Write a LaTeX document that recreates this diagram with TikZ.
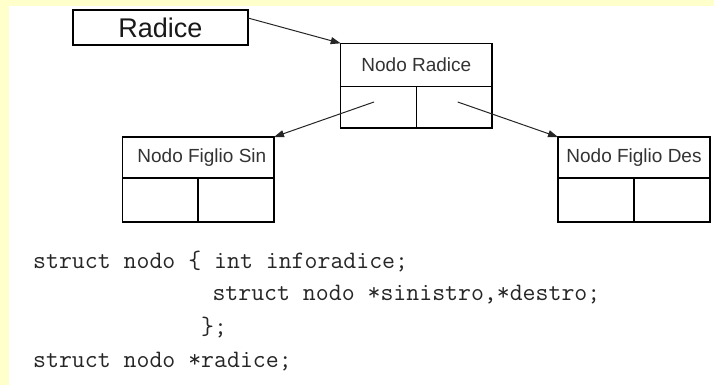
\documentclass[tikz,border=0pt]{standalone}
\usepackage{fontspec}
\setmainfont{Liberation Sans}
\usetikzlibrary{arrows.meta}
\definecolor{bgyellow}{HTML}{FFFFCC}
\definecolor{txtgray}{HTML}{333333}
\begin{document}
\begin{tikzpicture}[x=1pt,y=-1pt,
  cell/.style={draw=black, line width=1.2pt, inner sep=0pt, outer sep=0pt, anchor=north west,
    text=txtgray, font=\fontsize{19}{22}\selectfont},
  conn/.style={draw=black!85, line width=1pt, -{Triangle[length=10pt,width=7pt]}},
  code/.style={anchor=base west, inner sep=0pt, text=black!85, font=\fontsize{25.1}{30}\ttfamily}]
\fill[bgyellow] (0,0) rectangle (714,385);
\fill[white] (9,6) rectangle (714,385);
\useasboundingbox (0,0) rectangle (714,385);
% pointer variable
\node[cell, minimum width=175pt, minimum height=35pt, font=\fontsize{27}{30}\selectfont, text=black!90] (rad) at (73,10) {Radice};
% root node
\node[cell, minimum width=151.3pt, minimum height=43.4pt] (nrT) at (340.7,43.3) {Nodo Radice};
\node[cell, minimum width=76pt, minimum height=41.3pt] (nrL) at (340.7,86.7) {};
\node[cell, minimum width=75.3pt, minimum height=41.3pt] (nrR) at (416.7,86.7) {};
% left child
\node[cell, minimum width=151.3pt, minimum height=41pt] (fsT) at (122.7,137) {\hspace{7pt}Nodo Figlio Sin};
\node[cell, minimum width=75.3pt, minimum height=44pt] (fsL) at (122.7,178) {};
\node[cell, minimum width=76pt, minimum height=44pt] (fsR) at (198,178) {};
% right child
\node[cell, minimum width=152pt, minimum height=41pt] (fdT) at (558,137) {Nodo Figlio Des};
\node[cell, minimum width=76pt, minimum height=44pt] (fdL) at (558,178) {};
\node[cell, minimum width=76pt, minimum height=44pt] (fdR) at (634,178) {};
% pointer start points
\coordinate (pL) at (374,102);
\coordinate (pR) at (457.7,102);
% connectors
\draw[conn] ([yshift=9.5pt]rad.east) -- (nrT.north west);
\draw[conn] (pL) -- (fsT.north east);
\draw[conn] (pR) -- (fdT.north west);
% code
\node[code] (c1) at (33,268.5) {struct nodo \{ int inforadice;};
\node[code] (c2) at (212.3,300.5) {struct nodo *sinistro,*destro;};
\node[code] (c3) at (201,334) {\};};
\node[code] (c4) at (33,367.4) {struct nodo *radice;};
\end{tikzpicture}
\end{document}
